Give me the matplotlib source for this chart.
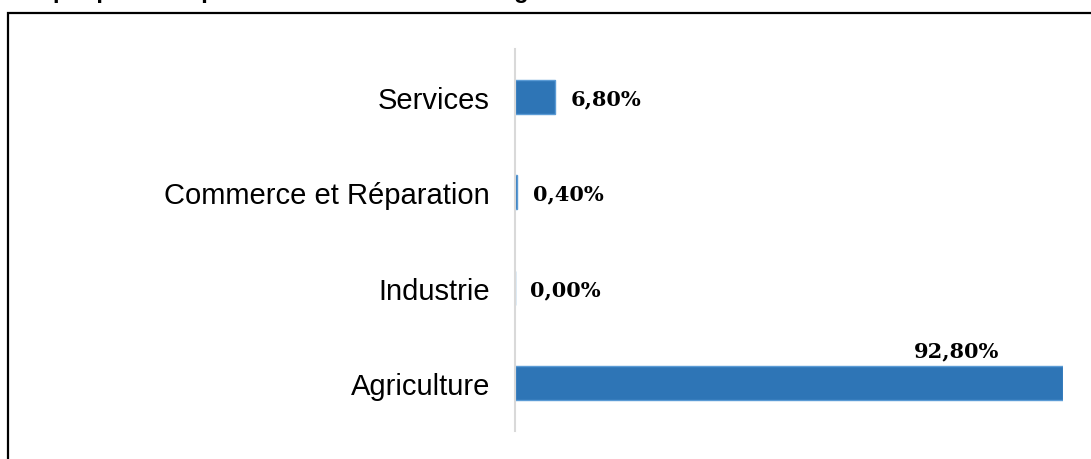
import matplotlib.pyplot as plt
from matplotlib.patches import Rectangle

categories = ['Agriculture', 'Industrie', 'Commerce et Réparation', 'Services']
values = [92.8, 0.0, 0.4, 6.8]
value_labels = ['92,80%', '0,00%', '0,40%', '6,80%']
title = "Graphique 4 : Répartition des chefs de ménage selon le secteur d'activité"

fig = plt.figure(figsize=(10.91, 4.6), dpi=100)
ax = fig.add_axes([515 / 1091, 28 / 460, 548 / 1091, 382 / 460])

y = range(len(categories))
ax.barh(y, values, height=0.36, color='#2E75B6', edgecolor='#5B9BD5', linewidth=1)

ax.set_xlim(0, max(values))
ax.set_ylim(-0.5, len(categories) - 0.5)
ax.set_yticks(list(y))
ax.set_yticklabels(categories, fontsize=21, family='Liberation Sans')
ax.tick_params(axis='y', length=0, pad=18)
ax.set_xticks([])
for side in ['top', 'right', 'bottom']:
    ax.spines[side].set_visible(False)
ax.spines['left'].set_color('#d9d9d9')
ax.spines['left'].set_linewidth(1.5)

for i, (v, lab) in enumerate(zip(values, value_labels)):
    if v == max(values):
        ax.annotate(lab, (v, i + 0.18), xytext=(-46, 4), textcoords='offset points',
                    ha='right', va='bottom', fontsize=15, fontweight='bold',
                    family='DejaVu Serif')
    else:
        ax.annotate(lab, (v, i), xytext=(11, -1), textcoords='offset points',
                    ha='left', va='center', fontsize=15, fontweight='bold',
                    family='DejaVu Serif')

# frame around the chart (partly cut off at right and bottom)
fig.patches.append(Rectangle((8 / 1091, -0.05), 1.2, 1 - 14 / 460 + 0.05,
                             transform=fig.transFigure, fill=False,
                             edgecolor='black', linewidth=1.6))

# title sits mostly above the visible area, as in the source image
fig.text(12 / 1091, 1 + 2 / 460, title, ha='left', va='baseline',
         fontsize=17, fontweight='bold', family='Liberation Sans')

fig.savefig('out.png', dpi=100)
